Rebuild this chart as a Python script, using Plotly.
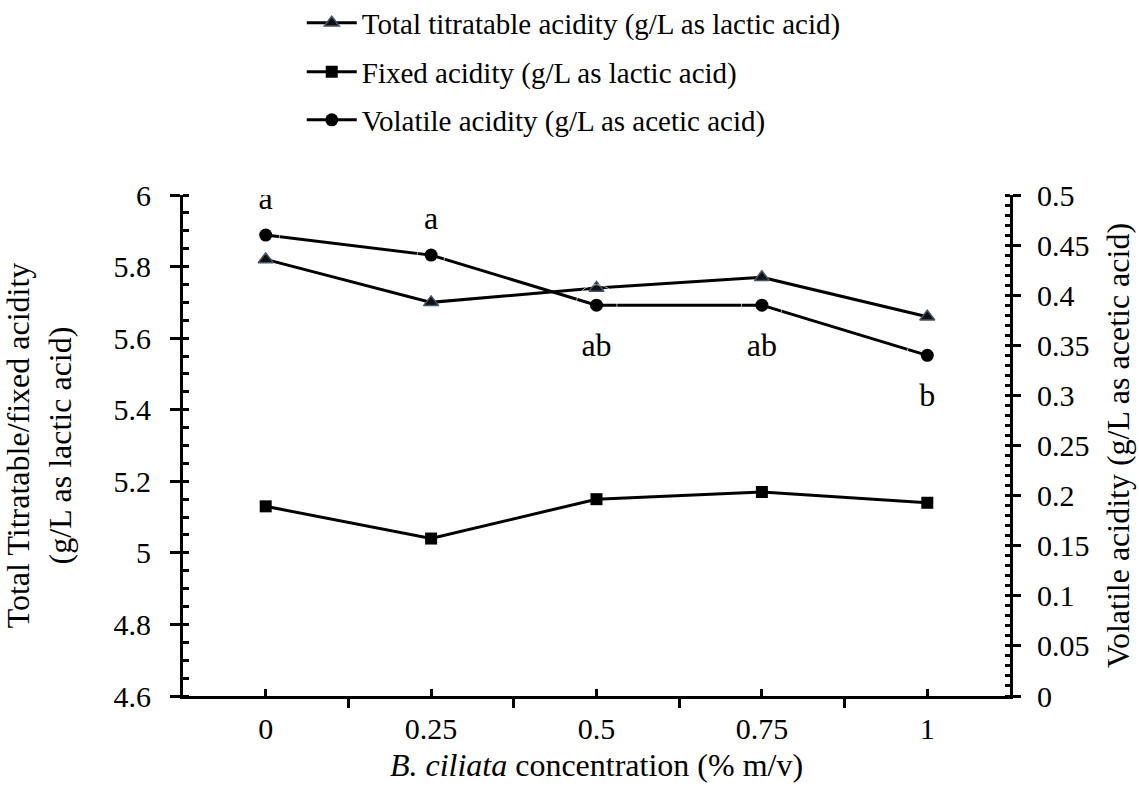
import plotly.graph_objects as go

categories = ["0", "0.25", "0.5", "0.75", "1"]
total_acidity = [5.82, 5.70, 5.74, 5.77, 5.66]
fixed_acidity = [5.13, 5.04, 5.15, 5.17, 5.14]
volatile_acidity = [0.46, 0.44, 0.39, 0.39, 0.34]
volatile_letters = ["a", "a", "ab", "ab", "b"]
letter_positions = ["top center", "top center", "bottom center", "bottom center", "bottom center"]

xs = list(range(len(categories)))
FONT = "Liberation Serif"
TICK_FS = 30
TITLE_FS = 32
LEG_FS = 29

fig = go.Figure()
fig.add_trace(go.Scatter(
    x=xs, y=total_acidity, mode="lines+markers",
    name="Total titratable acidity (g/L as lactic acid)", legend="legend",
    line=dict(color="black", width=3),
    marker=dict(symbol="triangle-up", size=13, color="#111111",
                line=dict(color="#44546A", width=1.5)),
))
fig.add_trace(go.Scatter(
    x=xs, y=fixed_acidity, mode="lines+markers",
    name="Fixed acidity (g/L as lactic acid)", legend="legend2",
    line=dict(color="black", width=3),
    marker=dict(symbol="square", size=12, color="black"),
))
fig.add_trace(go.Scatter(
    x=xs, y=volatile_acidity, mode="lines+markers",
    name="Volatile acidity (g/L as acetic acid)", legend="legend3",
    yaxis="y2",
    line=dict(color="black", width=3),
    marker=dict(symbol="circle", size=13, color="black"),
))
# significance letters: transparent markers set the text offset from the points
label_marker_sizes = [28 if p.startswith("top") else 41 for p in letter_positions]
fig.add_trace(go.Scatter(
    x=xs, y=volatile_acidity, mode="markers+text", yaxis="y2", showlegend=False,
    hoverinfo="skip",
    marker=dict(size=label_marker_sizes, color="rgba(0,0,0,0)"),
    text=volatile_letters, textposition=letter_positions,
    textfont=dict(family=FONT, size=TITLE_FS, color="black"),
))

axis_common = dict(showgrid=False, zeroline=False, linecolor="black", linewidth=3,
                   tickcolor="black", tickwidth=3,
                   tickfont=dict(family=FONT, size=TICK_FS, color="black"))

leg_common = dict(x=0.1436, xanchor="left", yanchor="middle",
                  font=dict(family=FONT, size=LEG_FS, color="black"),
                  itemwidth=50, bgcolor="rgba(0,0,0,0)")

fig.update_layout(
    width=1139, height=791,
    margin=dict(l=183, r=129, t=195, b=95, autoexpand=False),
    paper_bgcolor="white", plot_bgcolor="white",
    font=dict(family=FONT, size=TICK_FS, color="black"),
    showlegend=True,
    legend=dict(**leg_common, y=(696 - 23) / 501),
    legend2=dict(**leg_common, y=(696 - 72) / 501),
    legend3=dict(**leg_common, y=(696 - 120) / 501),
    xaxis=dict(**axis_common, range=[-0.5, 4.5], tickvals=xs, ticktext=categories,
               ticks="inside", ticklen=7, showline=True, ticklabelstandoff=4,
               minor=dict(tickvals=[i - 0.5 for i in range(len(categories) + 1)],
                          ticks="outside", ticklen=9, tickwidth=3, tickcolor="black"),
               title=dict(text="<i>B. ciliata</i> concentration (% m/v)",
                          font=dict(family=FONT, size=TITLE_FS), standoff=10)),
    yaxis=dict(**axis_common, range=[4.6, 6.0], dtick=0.2, ticks="outside", ticklen=10,
               showline=True, ticklabelstandoff=13,
               minor=dict(dtick=0.05, ticks="inside", ticklen=6, tickwidth=3, tickcolor="black"),
               title=dict(text="Total Titratable/fixed acidity<br>(g/L as lactic acid)",
                          font=dict(family=FONT, size=TITLE_FS), standoff=33)),
    yaxis2=dict(**axis_common, range=[0, 0.5], dtick=0.05, side="right", overlaying="y",
                ticks="outside", ticklen=8, showline=True, ticklabelstandoff=10,
                minor=dict(dtick=0.01, ticks="inside", ticklen=5, tickwidth=3, tickcolor="black"),
                title=dict(text="Volatile acidity (g/L as acetic acid)",
                           font=dict(family=FONT, size=TITLE_FS), standoff=19)),
    yaxis3=dict(range=[4.6, 6.0], dtick=0.2, overlaying="y", side="left", anchor="x",
                showgrid=False, zeroline=False, showline=False, showticklabels=False,
                ticks="inside", ticklen=6, tickwidth=3, tickcolor="black"),
    yaxis4=dict(range=[0, 0.5], dtick=0.05, overlaying="y", side="right", anchor="x",
                showgrid=False, zeroline=False, showline=False, showticklabels=False,
                ticks="inside", ticklen=5, tickwidth=3, tickcolor="black"),
)

fig.add_trace(go.Scatter(x=[None], y=[None], yaxis="y3", showlegend=False, hoverinfo="skip"))
fig.add_trace(go.Scatter(x=[None], y=[None], yaxis="y4", showlegend=False, hoverinfo="skip"))

fig.write_html("out.html")
